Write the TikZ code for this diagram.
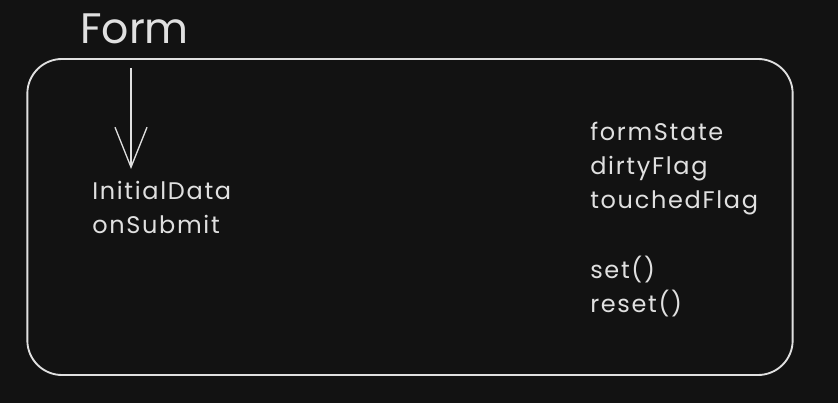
\documentclass[tikz,border=0pt]{standalone}
\usepackage{fontspec}
\setmainfont{Poppins}
\newfontfamily\sketchfont[LetterSpace=7]{Poppins}
\usetikzlibrary{arrows.meta}

\definecolor{canvas}{HTML}{121212}
\definecolor{chalk}{HTML}{E0E0E0}

\tikzset{
  formbox/.style={draw=chalk, line width=1.4pt, rounded corners=26pt,
    minimum width=574pt, minimum height=237pt, inner sep=0pt},
  formtitle/.style={text=chalk, inner sep=0pt, anchor=north west,
    font=\fontsize{32}{40}\selectfont},
  fieldlist/.style={text=chalk, inner sep=0pt, anchor=north west, align=left,
    font=\sketchfont\fontsize{18}{25.5}\selectfont},
  flow/.style={draw=chalk, line width=1pt,
    -{Straight Barb[length=30pt, width=24pt, line width=1pt]}}
}

\begin{document}
\begin{tikzpicture}[x=0.75pt, y=-0.75pt]
    % Dark canvas, same size as the reference.
    \fill[canvas] (0,0) rectangle (838,403);
    \useasboundingbox (0,0) rectangle (838,403);

    % Title and the outer box of the form.
    \node[formtitle] (title) at (80,13) {Form};
    \node[formbox] (form) at (410,217) {};

    % Inputs handed to the form.
    \node[fieldlist] (props) at (92,181) {InitialData\\onSubmit};
    \coordinate (feed) at (131,68);
    \draw[flow, shorten >=9pt] (feed) -- (feed |- props.north);

    % State and methods kept inside the form.
    \node[fieldlist] (state) at (590,122) {formState\\dirtyFlag\\touchedFlag\\[27pt]set()\\reset()};
  \end{tikzpicture}
\end{document}
